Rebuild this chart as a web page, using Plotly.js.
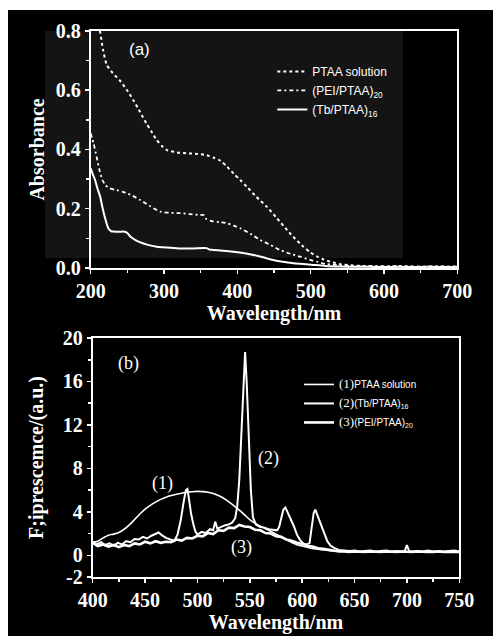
<!DOCTYPE html>
<html><head><meta charset="utf-8">
<script src="https://cdn.plot.ly/plotly-3.0.1.min.js"></script>
<style>html,body{margin:0;padding:0;background:#fff;width:493px;height:640px;overflow:hidden;}
#chart{position:absolute;left:8px;top:10px;width:485px;height:626px;}</style>
</head><body><div id="chart"></div>
<script>
// Panel (a): absorbance
const absWlSol = [207,212.7,217,222,230,240,249,258,267,276,283,290,297,304,318,331,345,358,368,377,386,395,404,413,426,440,454,468,479,490,500,509,518,527,540,555,570,590,610,630,650,670,690,700];
const absSol = [0.88,0.8,0.735,0.685,0.658,0.632,0.602,0.567,0.528,0.488,0.46,0.432,0.412,0.398,0.39,0.387,0.385,0.381,0.372,0.362,0.342,0.318,0.297,0.274,0.24,0.207,0.168,0.128,0.098,0.072,0.052,0.038,0.028,0.021,0.013,0.009,0.007,0.006,0.005,0.006,0.004,0.005,0.004,0.005];
const absWlPei = [200,204,208,212,216,220,226,235,245,256,267,280,295,310,322,335,349,355,358,365,375,386,395,404,418,431,445,458,472,486,497,509,520,530,545,560,580,600,620,640,660,680,700];
const absPei = [0.455,0.42,0.376,0.33,0.297,0.28,0.269,0.263,0.256,0.245,0.23,0.21,0.19,0.186,0.185,0.182,0.179,0.178,0.164,0.158,0.155,0.151,0.143,0.134,0.115,0.095,0.078,0.061,0.048,0.038,0.029,0.021,0.014,0.011,0.008,0.006,0.006,0.005,0.006,0.004,0.005,0.005,0.004];
const absWlTb = [200,203,206,209,213,216,220,224,228,231,238,245,250,254,260,267,278,290,305,322,340,358,362,367,380,395,410,422,435,449,462,477,490,504,520,540,560,580,600,620,640,660,680,700];
const absTb = [0.336,0.315,0.297,0.27,0.24,0.205,0.165,0.134,0.124,0.123,0.122,0.123,0.118,0.106,0.096,0.087,0.078,0.072,0.069,0.066,0.066,0.067,0.062,0.061,0.058,0.055,0.05,0.044,0.036,0.027,0.021,0.016,0.013,0.01,0.007,0.005,0.004,0.004,0.003,0.004,0.003,0.004,0.003,0.004];
const absNames = ['PTAA solution','(PEI/PTAA)<sub>20</sub>','(Tb/PTAA)<sub>16</sub>'];
const absXTicks = [200,300,400,500,600,700];
const absYTicks = [0,0.2,0.4,0.6,0.8];
const absYLabels = ['0.0','0.2','0.4','0.6','0.8'];

// Panel (b): fluorescence
const pl1Wl = [400,405,410,415,420,425,430,435,440,445,450,455,460,465,470,475,480,485,490,495,500,505,510,515,520,525,530,535,540,545,550,555,560,565,570,575,580,585,590,595,600,610,620,630,640,660,680,700,720,750];
const pl1 = [1.2,1.3,1.6,1.85,1.95,2.1,2.4,2.8,3.3,3.8,4.25,4.6,4.9,5.15,5.35,5.5,5.62,5.72,5.8,5.85,5.88,5.86,5.8,5.68,5.5,5.25,4.92,4.55,4.15,3.72,3.28,2.95,2.68,2.45,2.2,1.95,1.68,1.42,1.18,0.98,0.85,0.62,0.5,0.4,0.35,0.3,0.3,0.3,0.3,0.3];
const pl2Wl = [400,404,408,412,416,420,424,428,432,436,440,444,448,452,456,460,463,466,470,474,478,481,484,487,489,490.5,492,494,496,498,500,504,508,512,515,517,519,522,526,530,533,536,538,540,542,544,545.5,547,549,551,553,556,560,564,568,572,576,578,580,582,584,586,589,592,595,598,601,604,607,609,611,612.5,615,618,621,624,627,630,635,640,645,650,655,660,665,670,675,680,685,690,695,698,700,702,705,710,715,720,725,730,735,740,745,750];
const pl2 = [1.25,1.0,1.2,0.95,1.1,0.9,1.15,1.0,1.3,1.2,1.5,1.45,1.7,1.55,1.8,1.95,2.1,1.85,1.6,1.45,1.35,1.9,3.2,5.0,6.0,6.1,5.0,3.8,2.9,2.2,1.9,2.15,2.05,2.4,2.3,3.1,2.45,2.6,2.75,2.85,3.0,3.4,4.5,7.0,11.5,16.5,18.7,16.0,10.5,6.0,3.5,2.8,2.6,2.55,2.4,2.35,2.3,2.6,3.5,4.2,4.4,4.0,3.4,2.7,1.9,1.4,1.1,1.0,1.1,2.5,3.9,4.2,3.6,2.8,2.0,1.3,0.9,0.7,0.5,0.45,0.4,0.45,0.35,0.4,0.45,0.35,0.4,0.45,0.35,0.4,0.35,0.4,0.95,0.4,0.35,0.4,0.35,0.45,0.35,0.4,0.35,0.4,0.45,0.35];
const pl3Wl = [400,405,410,415,420,425,430,435,440,445,450,455,460,465,470,475,480,485,490,495,500,505,510,515,520,525,530,535,540,545,550,555,560,565,570,575,580,585,590,595,600,605,610,615,620,625,630,635,640,645,650,655,660,665,670,675,680,685,690,695,700,705,710,715,720,725,730,735,740,745,750];
const pl3 = [1.15,0.85,1.0,0.8,0.95,0.75,0.95,0.85,1.1,1.0,1.25,1.1,1.3,1.15,1.25,1.2,1.45,1.35,1.6,1.55,1.8,1.75,2.05,1.95,2.3,2.25,2.55,2.5,2.8,2.65,2.6,2.35,2.3,2.05,2.0,1.75,1.7,1.45,1.35,1.15,1.05,0.85,0.8,0.65,0.6,0.5,0.45,0.35,0.35,0.3,0.35,0.3,0.3,0.35,0.3,0.3,0.35,0.3,0.3,0.35,0.3,0.3,0.35,0.3,0.3,0.3,0.35,0.3,0.3,0.35,0.3];
const plNames = [
  '<span style="font-family:Liberation Serif;font-size:13px">(1)</span>PTAA solution',
  '<span style="font-family:Liberation Serif;font-size:13px">(2)</span>(Tb/PTAA)<sub>16</sub>',
  '<span style="font-family:Liberation Serif;font-size:13px">(3)</span>(PEI/PTAA)<sub>20</sub>'];
const plXTicks = [400,450,500,550,600,650,700,750];
const plYTicks = [-2,0,4,8,12,16,20];
const plYLabels = ['-2','0','4','8','12','16','20'];

const W = 'white';
const serif = 'Liberation Serif, Times New Roman, serif';
const sans = 'Liberation Sans, Arial, sans-serif';

const traces = [
  {x: absWlSol, y: absSol, name: absNames[0], mode: 'lines', line: {color: W, width: 2, dash: 'dot', shape: 'spline', smoothing: 0.6}, xaxis: 'x', yaxis: 'y', legend: 'legend'},
  {x: absWlPei, y: absPei, name: absNames[1], mode: 'lines', line: {color: W, width: 1.8, dash: '4px,3px,2px,3px', shape: 'spline', smoothing: 0.6}, xaxis: 'x', yaxis: 'y', legend: 'legend'},
  {x: absWlTb, y: absTb, name: absNames[2], mode: 'lines', line: {color: W, width: 2, shape: 'spline', smoothing: 0.6}, xaxis: 'x', yaxis: 'y', legend: 'legend'},
  {x: pl1Wl, y: pl1, name: plNames[0], mode: 'lines', line: {color: W, width: 1.6, shape: 'spline', smoothing: 0.8}, xaxis: 'x2', yaxis: 'y2', legend: 'legend2'},
  {x: pl2Wl, y: pl2, name: plNames[1], mode: 'lines', line: {color: W, width: 2}, xaxis: 'x2', yaxis: 'y2', legend: 'legend2'},
  {x: pl3Wl, y: pl3, name: plNames[2], mode: 'lines', line: {color: W, width: 2.6}, xaxis: 'x2', yaxis: 'y2', legend: 'legend2'}
];

const tickFont = {family: serif, size: 20, color: W, weight: 'bold'};
const titleFont = {family: serif, size: 20, color: W, weight: 'bold'};
const axBase = {showgrid: false, zeroline: false, showline: true, linecolor: W, linewidth: 2, mirror: true,
  ticks: 'outside', ticklen: 4, tickwidth: 1.5, tickcolor: W, tickfont: tickFont};

const layout = {
  width: 485, height: 626,
  margin: {l: 0, r: 0, t: 0, b: 0},
  paper_bgcolor: 'black', plot_bgcolor: 'rgba(0,0,0,0)',
  showlegend: true,
  xaxis: Object.assign({}, axBase, {domain: [0.1705, 0.9264], anchor: 'y', range: [200, 700], tickvals: absXTicks,
    minor: {dtick: 50, ticks: 'outside', ticklen: 3, tickcolor: W},
    title: {text: 'Wavelength/nm', font: titleFont, standoff: 2}}),
  yaxis: Object.assign({}, axBase, {domain: [0.5879, 0.9665], anchor: 'x', range: [0, 0.8], tickvals: absYTicks, ticktext: absYLabels,
    minor: {dtick: 0.1, ticks: 'outside', ticklen: 3, tickcolor: W},
    title: {text: 'Absorbance', font: titleFont, standoff: 6}}),
  xaxis2: Object.assign({}, axBase, {domain: [0.1746, 0.9305], anchor: 'y2', range: [400, 750], tickvals: plXTicks,
    minor: {dtick: 25, ticks: 'outside', ticklen: 3, tickcolor: W},
    title: {text: 'Wavelength/nm', font: titleFont, standoff: 4}}),
  yaxis2: Object.assign({}, axBase, {domain: [0.0942, 0.476], anchor: 'x2', range: [-2, 20], tickvals: plYTicks, ticktext: plYLabels,
    minor: {tick0: 0, dtick: 2, ticks: 'outside', ticklen: 3, tickcolor: W},
    title: {text: 'F;iprescemce/(a.u.)', font: titleFont, standoff: 14}}),
  legend: {x: 0.545, y: 0.925, xanchor: 'left', yanchor: 'top', bgcolor: 'rgba(0,0,0,0)',
    font: {family: sans, size: 12, color: W}, tracegroupgap: 0, itemwidth: 30},
  legend2: {x: 0.6, y: 0.425, xanchor: 'left', yanchor: 'top', bgcolor: 'rgba(0,0,0,0)',
    font: {family: sans, size: 10, color: W}, tracegroupgap: 0, itemwidth: 30},
  shapes: [{type: 'rect', xref: 'paper', yref: 'paper', x0: 0.0763, x1: 0.8144, y0: 0.6038, y1: 0.9665,
    fillcolor: '#141414', line: {width: 0}, layer: 'below'}],
  annotations: [
    {xref: 'x', yref: 'y', x: 267, y: 0.736, text: '(a)', showarrow: false, font: {family: sans, size: 17, color: W}},
    {xref: 'x2', yref: 'y2', x: 434, y: 17.7, text: '(b)', showarrow: false, font: {family: serif, size: 18, color: W}},
    {xref: 'x2', yref: 'y2', x: 467, y: 6.6, text: '(1)', showarrow: false, font: {family: serif, size: 18, color: W}},
    {xref: 'x2', yref: 'y2', x: 568, y: 8.9, text: '(2)', showarrow: false, font: {family: serif, size: 18, color: W}},
    {xref: 'x2', yref: 'y2', x: 542, y: 0.7, text: '(3)', showarrow: false, font: {family: serif, size: 18, color: W}}
  ]
};

Plotly.newPlot('chart', traces, layout, {staticPlot: true, displayModeBar: false});
</script></body></html>
